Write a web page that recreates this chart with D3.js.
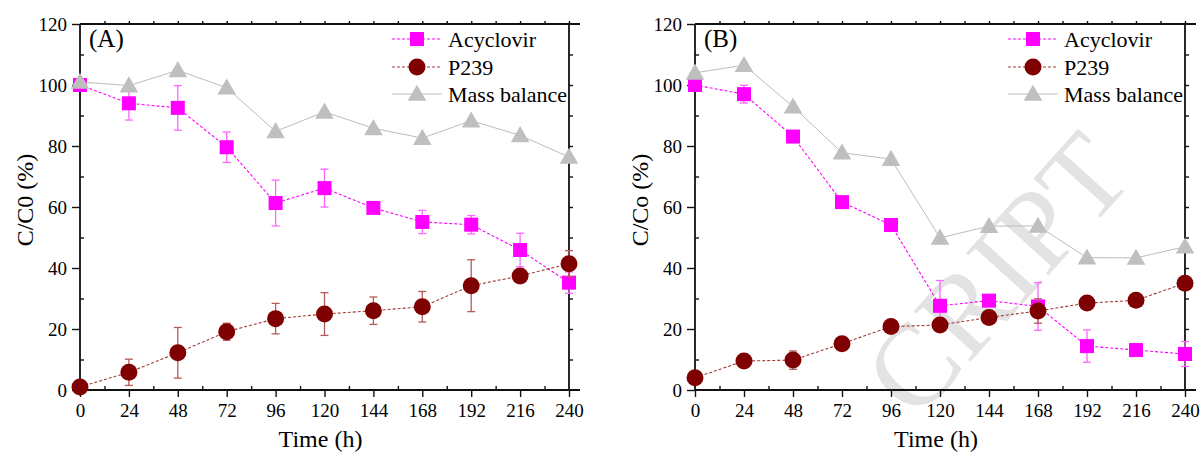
<!DOCTYPE html>
<html>
  <head>
    <meta charset="utf-8">
    <title>Acyclovir / P239</title>
    <script src="https://d3js.org/d3.v7.min.js"></script>
    <style>
      body { margin: 0; background: #fff; }
      svg text { font-family: "Liberation Serif", "Times New Roman", Times, "DejaVu Serif", serif; fill: #000; }
    </style>
  </head>
  <body>
    <div class="chart"></div>
    <script>
      /*
       * data
       */
      var timeH = [0, 24, 48, 72, 96, 120, 144, 168, 192, 216, 240];
      var xTicks = [0, 24, 48, 72, 96, 120, 144, 168, 192, 216, 240];
      var yTicks = [0, 20, 40, 60, 80, 100, 120];
      var seriesNames = ["Acyclovir", "P239", "Mass balance"];

      // panel A
      var acyA    = [100, 94, 92.5, 79.6, 61.3, 66.2, 59.7, 55.1, 54.2, 45.9, 35.2];
      var acyAErr = [1, 5.5, 7.3, 5, 7.5, 6.2, 1.2, 3.8, 3, 5.5, 3.5];
      var p239A    = [1, 5.8, 12.2, 19.1, 23.4, 24.9, 26, 27.3, 34.2, 37.4, 41.4];
      var p239AErr = [0, 4.3, 8.3, 2.8, 5, 7, 4.5, 5, 8.5, 1, 4.3];
      var massA = [101, 99.8, 104.8, 99.1, 84.8, 91.2, 85.8, 82.6, 88.3, 83.5, 76.4];

      // panel B
      var acyB    = [100, 97, 83.1, 61.6, 54.1, 27.6, 29.3, 27.4, 14.4, 13.1, 11.8];
      var acyBErr = [0.5, 2.9, 0.8, 0.8, 0.8, 8.3, 0.8, 7.8, 5.3, 1, 4.1];
      var p239B    = [4, 9.5, 9.8, 15.2, 20.8, 21.3, 23.8, 25.9, 28.5, 29.4, 35];
      var p239BErr = [0.5, 0.8, 3, 0.8, 0.8, 0.8, 0.8, 4, 0.8, 0.8, 0.8];
      var massB = [104, 106.5, 92.9, 77.8, 75.7, 49.9, 53.7, 53.8, 43.4, 43.3, 47];

      var W = 1204, H = 453;
      var serif = "'Liberation Serif', 'Times New Roman', Times, 'DejaVu Serif', serif";

      var svg = d3.select(".chart").append("svg")
        .attr("width", W)
        .attr("height", H)
        .attr("font-family", serif);

      // faint journal watermark behind panel B (only the part that shows)
      svg.append("text")
        .attr("transform", "translate(1136,178) rotate(-48)")
        .attr("text-anchor", "end")
        .attr("font-family", serif)
        .style("font-size", "116px")
        .style("fill", "#e3e3e3")
        .text("CRIPT");

      function drawPanel(p) {
        var x = d3.scaleLinear().domain([0, 240]).range([p.x0, p.x1]);
        var y = d3.scaleLinear().domain([0, 120]).range([390, 24]);
        var g = svg.append("g");

        // axes
        var axisStyle = function(sel) {
          sel.attr("font-family", serif);
          sel.select(".domain").remove();
          sel.selectAll("line").attr("stroke", "#111").attr("stroke-width", 1.4);
          sel.selectAll("text").attr("font-family", serif).style("font-size", "19px");
        };
        g.append("g").attr("transform", "translate(0,390)")
          .call(d3.axisBottom(x).tickValues(xTicks).tickSize(7).tickPadding(7))
          .call(axisStyle);
        g.append("g").attr("transform", "translate(0,390)")
          .call(d3.axisBottom(x).tickValues(d3.range(12, 240, 24)).tickSize(-4).tickFormat(""))
          .call(axisStyle);
        g.append("g").attr("transform", "translate(" + p.x0 + ",0)")
          .call(d3.axisLeft(y).tickValues(yTicks).tickSize(8).tickPadding(5))
          .call(axisStyle);
        g.append("g").attr("transform", "translate(" + p.x0 + ",0)")
          .call(d3.axisLeft(y).tickValues(d3.range(10, 120, 20)).tickSize(-4).tickFormat(""))
          .call(axisStyle);
        g.append("g").attr("transform", "translate(" + p.x1 + ",0)")
          .call(d3.axisRight(y).tickValues(d3.range(10, 120, 10)).tickSize(4).tickFormat(""))
          .call(axisStyle);
        g.append("g").attr("transform", "translate(0,24)")
          .call(d3.axisTop(x).tickValues(d3.range(12, 241, 12)).tickSize(3).tickFormat(""))
          .call(axisStyle);

        var frame = [
          [p.x0, 24, p.x0, 390], [p.x1, 24, p.x1, 390],
          [p.x0, 390, p.x1 + 11, 390], [p.x0, 24, p.x1 + 11, 24]
        ];
        g.selectAll("line.frame").data(frame).enter().append("line")
          .attr("class", "frame")
          .attr("x1", d => d[0]).attr("y1", d => d[1])
          .attr("x2", d => d[2]).attr("y2", d => d[3])
          .attr("stroke", "#111").attr("stroke-width", 1.8);

        // titles
        g.append("text")
          .attr("transform", "translate(" + (p.x0 - 47) + ",200) rotate(-90)")
          .attr("text-anchor", "middle")
          .style("font-size", "24px")
          .text(p.ytitle);
        g.append("text")
          .attr("x", (p.x0 + p.x1) / 2 - 4).attr("y", 447)
          .attr("text-anchor", "middle")
          .style("font-size", "24px")
          .text("Time (h)");
        g.append("text")
          .attr("x", p.x0 + 9).attr("y", 47)
          .style("font-size", "25px")
          .text(p.tag);

        var pts = function(vals, errs) {
          return timeH.map((t, i) => ({ t: t, v: vals[i], e: errs ? errs[i] : 0 }));
        };
        var line = d3.line().x(d => x(d.t)).y(d => y(d.v));

        function errorBars(data, color) {
          var eb = g.append("g").attr("stroke", color).attr("stroke-width", 1.3);
          eb.selectAll("line.v").data(data).enter().append("line")
            .attr("x1", d => x(d.t)).attr("x2", d => x(d.t))
            .attr("y1", d => y(d.v + d.e)).attr("y2", d => y(d.v - d.e));
          eb.selectAll("line.top").data(data).enter().append("line")
            .attr("x1", d => x(d.t) - 4).attr("x2", d => x(d.t) + 4)
            .attr("y1", d => y(d.v + d.e)).attr("y2", d => y(d.v + d.e));
          eb.selectAll("line.bot").data(data).enter().append("line")
            .attr("x1", d => x(d.t) - 4).attr("x2", d => x(d.t) + 4)
            .attr("y1", d => y(d.v - d.e)).attr("y2", d => y(d.v - d.e));
        }

        // Acyclovir
        var acy = pts(p.acy, p.acyErr);
        g.append("path").datum(acy).attr("d", line)
          .attr("fill", "none").attr("stroke", "#ff00ff")
          .attr("stroke-width", 1.1).attr("stroke-dasharray", "3,2");
        errorBars(acy, "#ff66ff");
        g.selectAll("rect.acy").data(acy).enter().append("rect")
          .attr("x", d => x(d.t) - 7).attr("y", d => y(d.v) - 7)
          .attr("width", 14).attr("height", 14)
          .attr("fill", "#ff00ff");

        // P239
        var pp = pts(p.p239, p.p239Err);
        g.append("path").datum(pp).attr("d", line)
          .attr("fill", "none").attr("stroke", "#a33a3a")
          .attr("stroke-width", 1.1).attr("stroke-dasharray", "3,2");
        errorBars(pp, "#b55a5a");
        g.selectAll("circle.p").data(pp).enter().append("circle")
          .attr("cx", d => x(d.t)).attr("cy", d => y(d.v)).attr("r", 8.5)
          .attr("fill", "#7f0000");

        // Mass balance
        var mb = pts(p.mass);
        var tri = d3.symbol().type(d3.symbolTriangle).size(150);
        g.append("path").datum(mb).attr("d", line)
          .attr("fill", "none").attr("stroke", "#bdbdbd").attr("stroke-width", 1);
        g.selectAll("path.mb").data(mb).enter().append("path")
          .attr("d", tri)
          .attr("transform", d => "translate(" + x(d.t) + "," + (y(d.v) + 1.5) + ")")
          .attr("fill", "#bfbfbf");

        // legend
        var lx = p.x1 - 177;
        var lg = g.append("g");
        var rows = [39, 67, 94];
        lg.append("line").attr("x1", lx).attr("x2", lx + 50).attr("y1", rows[0]).attr("y2", rows[0])
          .attr("stroke", "#ff00ff").attr("stroke-width", 1.1).attr("stroke-dasharray", "3,2");
        lg.append("rect").attr("x", lx + 18).attr("y", rows[0] - 7).attr("width", 14).attr("height", 14)
          .attr("fill", "#ff00ff");
        lg.append("line").attr("x1", lx).attr("x2", lx + 50).attr("y1", rows[1]).attr("y2", rows[1])
          .attr("stroke", "#a33a3a").attr("stroke-width", 1.1).attr("stroke-dasharray", "3,2");
        lg.append("circle").attr("cx", lx + 25).attr("cy", rows[1]).attr("r", 8.5).attr("fill", "#7f0000");
        lg.append("line").attr("x1", lx).attr("x2", lx + 50).attr("y1", rows[2]).attr("y2", rows[2])
          .attr("stroke", "#bdbdbd").attr("stroke-width", 1);
        lg.append("path").attr("d", tri).attr("transform", "translate(" + (lx + 25) + "," + (rows[2] + 1.5) + ")")
          .attr("fill", "#bfbfbf");
        lg.selectAll("text").data(seriesNames).enter().append("text")
          .attr("x", lx + 56).attr("y", (d, i) => rows[i] + 7.5)
          .style("font-size", "22px")
          .text(d => d);
      }

      drawPanel({ x0: 80, x1: 569, tag: "(A)", ytitle: "C/C0 (%)",
        acy: acyA, acyErr: acyAErr, p239: p239A, p239Err: p239AErr, mass: massA });
      drawPanel({ x0: 695, x1: 1185, tag: "(B)", ytitle: "C/Co (%)",
        acy: acyB, acyErr: acyBErr, p239: p239B, p239Err: p239BErr, mass: massB });
    </script>
  </body>
</html>
